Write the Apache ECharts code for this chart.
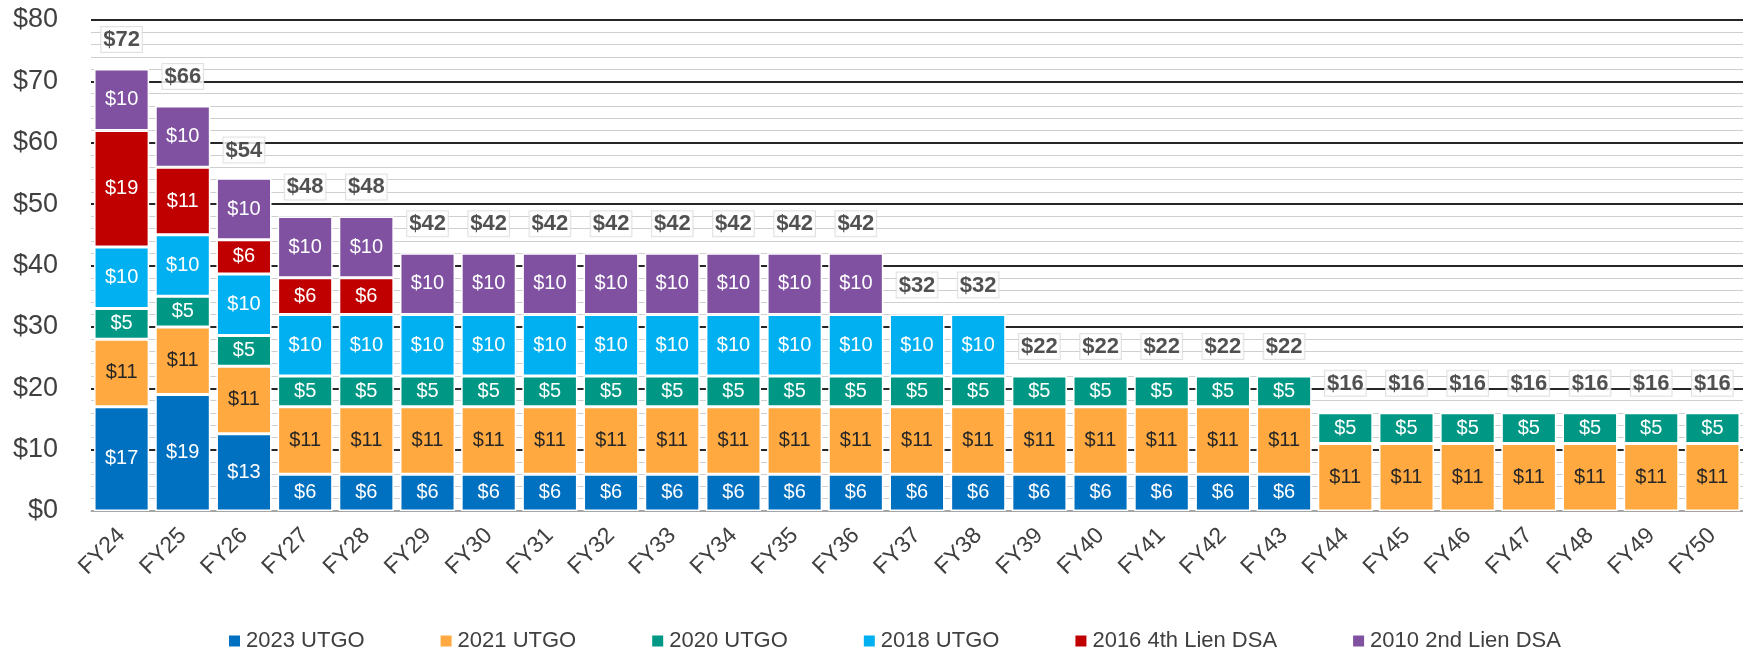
<!DOCTYPE html>
<html>
<head>
    <meta charset="utf-8" />
    <title>Debt Service</title>
    <style type="text/css">
        html, body {
            margin: 0;
            padding: 0;
            width: 100%;
            height: 100%;
            background: #fff;
            overflow: hidden;
        }
        #chart {
            width: 1743px;
            height: 655px;
        }
    </style>
</head>
<body>
    <div id="chart"></div>
    <script src="https://cdn.jsdelivr.net/npm/echarts@6/dist/echarts.min.js"></script>
    <script type="text/javascript">
        var years = ['FY24', 'FY25', 'FY26', 'FY27', 'FY28', 'FY29', 'FY30', 'FY31', 'FY32', 'FY33', 'FY34', 'FY35', 'FY36',
            'FY37', 'FY38', 'FY39', 'FY40', 'FY41', 'FY42', 'FY43', 'FY44', 'FY45', 'FY46', 'FY47', 'FY48', 'FY49', 'FY50'];
        var utgo2023 = [17, 19, 12.6, 6, 6, 6, 6, 6, 6, 6, 6, 6, 6, 6, 6, 6, 6, 6, 6, 6, 0, 0, 0, 0, 0, 0, 0];
        var utgo2021 = [11, 11, 11, 11, 11, 11, 11, 11, 11, 11, 11, 11, 11, 11, 11, 11, 11, 11, 11, 11, 11, 11, 11, 11, 11, 11, 11];
        var utgo2020 = [5, 5, 5, 5, 5, 5, 5, 5, 5, 5, 5, 5, 5, 5, 5, 5, 5, 5, 5, 5, 5, 5, 5, 5, 5, 5, 5];
        var utgo2018 = [10, 10, 10, 10, 10, 10, 10, 10, 10, 10, 10, 10, 10, 10, 10, 0, 0, 0, 0, 0, 0, 0, 0, 0, 0, 0, 0];
        var dsa2016 = [19, 11, 5.6, 6, 6, 0, 0, 0, 0, 0, 0, 0, 0, 0, 0, 0, 0, 0, 0, 0, 0, 0, 0, 0, 0, 0, 0];
        var dsa2010 = [10, 10, 10, 10, 10, 10, 10, 10, 10, 10, 10, 10, 10, 0, 0, 0, 0, 0, 0, 0, 0, 0, 0, 0, 0, 0, 0];
        var yTicks = [0, 10, 20, 30, 40, 50, 60, 70, 80];

        var seriesDefs = [
            { name: '2023 UTGO', data: utgo2023, color: '#0070C0', text: '#fff' },
            { name: '2021 UTGO', data: utgo2021, color: '#FFA940', text: '#262626' },
            { name: '2020 UTGO', data: utgo2020, color: '#009884', text: '#fff' },
            { name: '2018 UTGO', data: utgo2018, color: '#00B0F0', text: '#fff' },
            { name: '2016 4th Lien DSA', data: dsa2016, color: '#C00000', text: '#fff' },
            { name: '2010 2nd Lien DSA', data: dsa2010, color: '#7F51A0', text: '#fff' }
        ];

        var totals = years.map(function (y, i) {
            var s = 0;
            seriesDefs.forEach(function (d) { s += d.data[i]; });
            return Math.round(s);
        });

        var FONT = '"Liberation Sans", Arial, sans-serif';

        var series = seriesDefs.map(function (d) {
            return {
                name: d.name,
                type: 'bar',
                stack: 'total',
                barCategoryGap: '10%',
                data: d.data.map(function (v) { return v === 0 ? null : v; }),
                itemStyle: { color: d.color, borderColor: '#fff', borderWidth: 1.5 },
                label: {
                    show: true,
                    position: 'inside',
                    color: d.text,
                    fontFamily: FONT,
                    fontSize: 20,
                    formatter: function (p) { return '$' + Math.round(p.value); }
                }
            };
        });

        series.push({
            name: 'Total',
            type: 'scatter',
            symbolSize: 0,
            data: totals,
            z: 5,
            label: {
                show: true,
                position: 'top',
                distance: 17,
                color: '#262626',
                fontFamily: FONT,
                fontWeight: 'bold',
                fontSize: 22,
                backgroundColor: '#fff',
                borderColor: '#d9d9d9',
                borderWidth: 1,
                padding: [2, 2, 1, 2],
                formatter: function (p) { return '$' + p.value; }
            }
        });

        var myChart = echarts.init(document.getElementById('chart'), null, { renderer: 'canvas' });
        myChart.setOption({
            animation: false,
            grid: { left: 91, right: 0, top: 20, bottom: 144, containLabel: false },
            legend: {
                data: seriesDefs.map(function (d) { return d.name; }),
                bottom: -2,
                left: 222,
                itemWidth: 13,
                itemHeight: 13,
                itemGap: 74,
                icon: 'rect',
                textStyle: { fontFamily: FONT, fontSize: 22, color: '#404040' }
            },
            color: seriesDefs.map(function (d) { return d.color; }),
            xAxis: {
                type: 'category',
                data: years,
                axisLine: { lineStyle: { color: '#d0d0d0', width: 1.5 } },
                axisTick: { show: false },
                axisLabel: {
                    rotate: 45,
                    interval: 0,
                    margin: 21,
                    color: '#404040',
                    fontFamily: FONT,
                    fontSize: 23
                }
            },
            yAxis: {
                type: 'value',
                min: yTicks[0],
                max: yTicks[yTicks.length - 1],
                interval: 10,
                axisLine: { show: false },
                axisTick: { show: false },
                axisLabel: {
                    margin: 33,
                    color: '#404040',
                    fontFamily: FONT,
                    fontSize: 27,
                    formatter: function (v) { return '$' + v; }
                },
                splitLine: { lineStyle: { color: '#262626', width: 2 } },
                minorTick: { show: false, splitNumber: 5 },
                minorSplitLine: { show: true, lineStyle: { color: '#cfcfcf', width: 1 } }
            },
            series: series
        });
        window.onresize = myChart.resize;
    </script>
</body>
</html>
